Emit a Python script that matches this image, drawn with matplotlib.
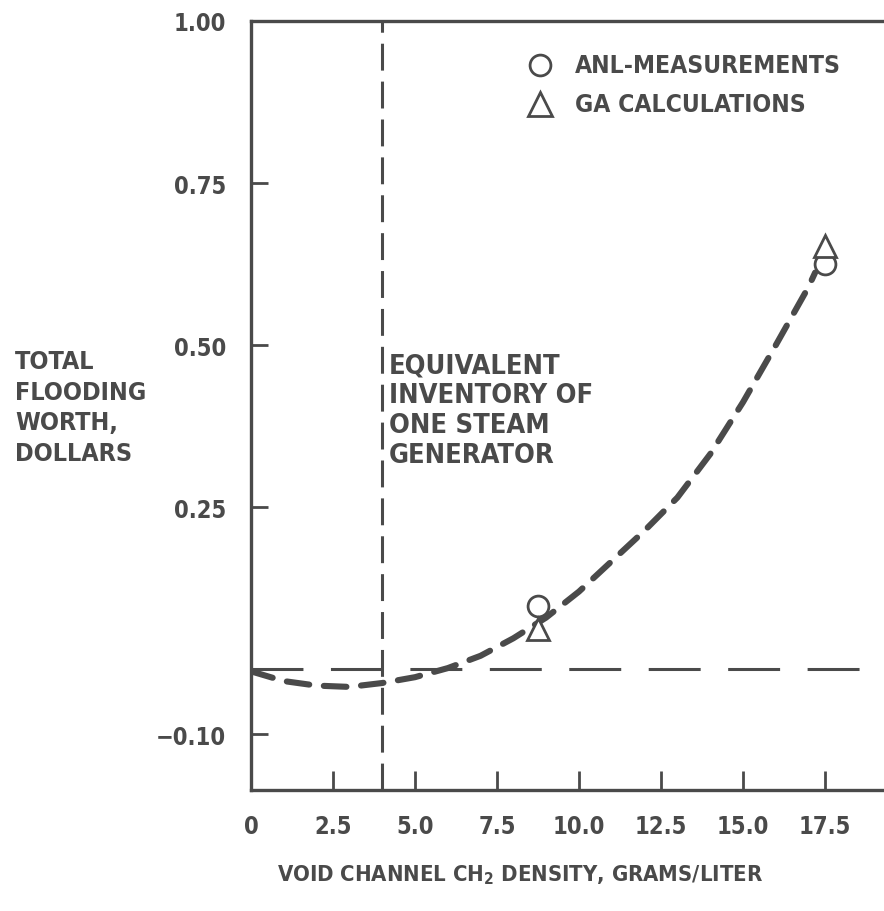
import numpy as np
import matplotlib.pyplot as plt

# curve
density = [0, 1, 2, 3, 4, 5, 6, 7, 8, 9, 10, 11, 12, 13, 14, 15, 16, 17, 17.2]
worth = [-0.003, -0.018, -0.025, -0.027, -0.021, -0.012, 0.002, 0.021, 0.048,
         0.080, 0.120, 0.167, 0.214, 0.265, 0.332, 0.412, 0.500, 0.590, 0.612]

# measured / calculated points
anl_x = [8.75, 17.5]
anl_y = [0.098, 0.625]
ga_x = [8.75, 17.5]
ga_y = [0.062, 0.653]

steam_gen_density = 4.0

x_ticks = [0, 2.5, 5.0, 7.5, 10.0, 12.5, 15.0, 17.5]
x_labels = ['0', '2.5', '5.0', '7.5', '10.0', '12.5', '15.0', '17.5']
y_ticks = [-0.10, 0.25, 0.50, 0.75, 1.00]
y_labels = ['\u22120.10', '0.25', '0.50', '0.75', '1.00']

ink = '#4a4a4a'
plt.rcParams['font.family'] = ['DejaVu Sans']
plt.rcParams['font.weight'] = 'bold'
plt.rcParams['font.stretch'] = 'condensed'

fig = plt.figure(figsize=(8.84, 9.12), dpi=100)
ax = fig.add_axes([251 / 884, 1 - 791 / 912, 1 - 251 / 884, (791 - 22) / 912])

# reference lines
ax.axhline(0, color=ink, lw=2.2, dashes=(17, 9), zorder=1)
ax.axvline(steam_gen_density, color=ink, lw=2.2, dashes=(8.8, 3.6), zorder=1)

# fitted curve
ax.plot(density, worth, color=ink, lw=4.4, dashes=(3.7, 2.4),
        dash_capstyle='round', zorder=2)

ax.plot(anl_x, anl_y, 'o', ms=15, mfc='white', mec=ink, mew=2.0, zorder=3)
ax.plot(ga_x, ga_y, '^', ms=16.5, mfc='white', mec=ink, mew=2.0, zorder=4)

ax.set_xlim(0, 19.3)
ax.set_ylim(-0.186, 1.0)
ax.set_xticks(x_ticks)
ax.set_xticklabels(x_labels)
ax.set_yticks(y_ticks)
ax.set_yticklabels(y_labels)
ax.tick_params(axis='x', direction='in', length=14, width=2.0, color=ink,
               labelcolor=ink, labelsize=17, pad=17)
ax.tick_params(axis='y', direction='in', length=12, width=2.0, color=ink,
               labelcolor=ink, labelsize=17, pad=18)
for side in ['left', 'bottom', 'top']:
    ax.spines[side].set_color(ink)
    ax.spines[side].set_linewidth(2.4)
ax.spines['right'].set_visible(False)

# legend drawn by hand like the original
ax.plot([8.81], [0.932], 'o', ms=15, mfc='white', mec=ink, mew=2.0,
        clip_on=False)
ax.plot([8.81], [0.872], '^', ms=17, mfc='white', mec=ink, mew=2.0,
        clip_on=False)
ax.text(9.88, 0.932, 'ANL-MEASUREMENTS', color=ink, fontsize=17.7,
        va='center', ha='left')
ax.text(9.88, 0.872, 'GA CALCULATIONS', color=ink, fontsize=17.7,
        va='center', ha='left')

ax.text(4.2, 0.400, 'EQUIVALENT\nINVENTORY OF\nONE STEAM\nGENERATOR',
        color=ink, fontsize=19.5, va='center', ha='left', linespacing=1.2)

fig.text(15 / 884, 1 - 408 / 912, 'TOTAL\nFLOODING\nWORTH,\nDOLLARS',
         color=ink, fontsize=18, va='center', ha='left', linespacing=1.36)
fig.text(520 / 884, 1 - 875 / 912,
         r'VOID CHANNEL CH$_\mathbf{2}$ DENSITY, GRAMS/LITER',
         color=ink, fontsize=15.8, va='center', ha='center')

fig.savefig('out.png', dpi=100, facecolor='white')
